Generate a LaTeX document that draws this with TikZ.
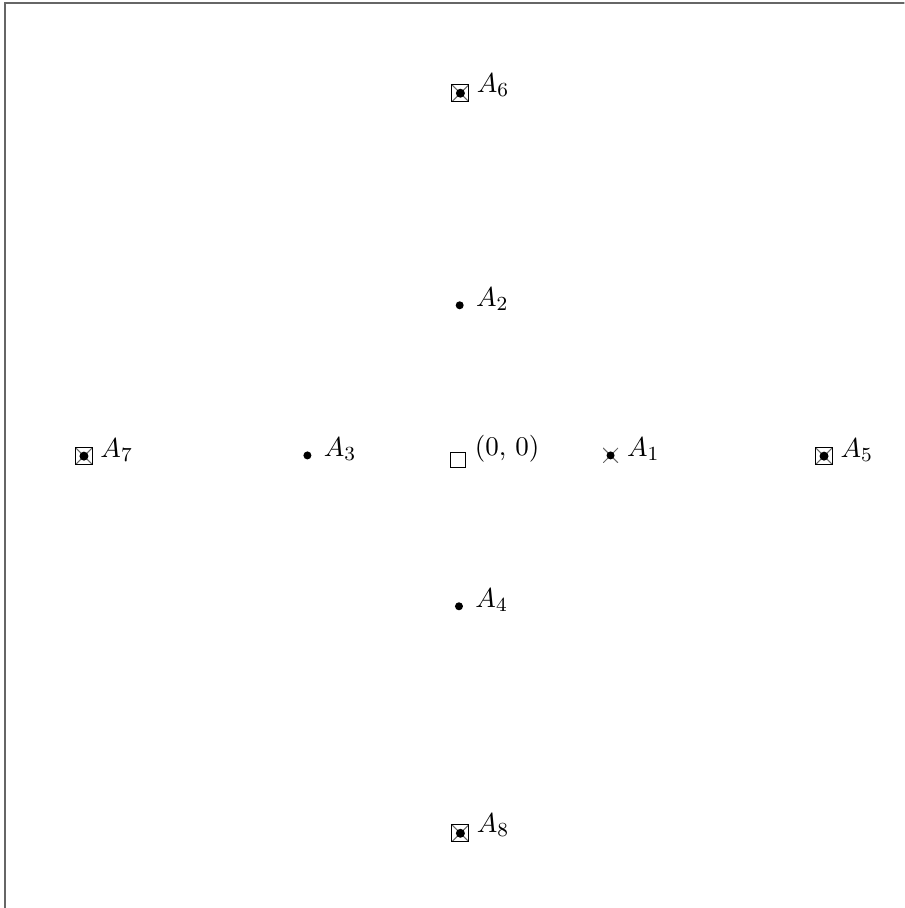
\documentclass[tikz,border=0pt]{standalone}
\usepackage{amsmath,amssymb}
\usepackage{xcolor}
\usepackage{tikz}
\usetikzlibrary{positioning}
\tikzset{
  origmark/.style={rectangle,draw=black,line width=0.4pt,minimum size=6pt,inner sep=0pt},
  dotmark/.style={circle,fill=black,minimum size=3.2pt,inner sep=0pt},
  xmark/.style={rectangle,minimum size=6pt,inner sep=0pt,
    path picture={
      \draw[black!60,line width=0.4pt]
        (path picture bounding box.south west) -- (path picture bounding box.north east)
        (path picture bounding box.north west) -- (path picture bounding box.south east);
      \fill (path picture bounding box.center) circle (1.6pt);}},
  boxmark/.style={xmark,draw=black,line width=0.4pt,minimum size=6.8pt,
    path picture={
      \draw[black!60,line width=0.4pt]
        (path picture bounding box.south west) -- (path picture bounding box.north east)
        (path picture bounding box.north west) -- (path picture bounding box.south east);
      \fill (path picture bounding box.center) circle (1.8pt);}},
  lbl/.style={anchor=base west,inner sep=0pt,xshift=6.4pt,yshift=-0.4pt},
}

\begin{document}
\begin{tikzpicture}[every node/.style={font=\fontsize{10.8}{13}\selectfont}]
  \useasboundingbox (-6.44,-6.35) rectangle (6.27,6.41);
  \clip (-6.44,-6.35) rectangle (6.27,6.41);
  \draw[black!60,line width=0.8pt] (-6.37,-7) |- (7,6.37);
  % markers
  \node[origmark] (o)  at (0,-0.05)     {};
  \node[xmark]    (a1) at (2.14,0.01)   {};
  \node[dotmark]  (a2) at (0.02,2.12)   {};
  \node[dotmark]  (a3) at (-2.12,0.01)  {};
  \node[dotmark]  (a4) at (0.01,-2.11)  {};
  \node[boxmark]  (a5) at (5.14,0)      {};
  \node[boxmark]  (a6) at (0.03,5.10)   {};
  \node[boxmark]  (a7) at (-5.26,0)     {};
  \node[boxmark]  (a8) at (0.03,-5.30)  {};
  % labels
  \node[lbl,yshift=2pt] (lo) at (o.center) {(0, 0)};
  \node[lbl] (l1) at (a1.center) {$A_1$};
  \node[lbl] (l2) at (a2.center) {$A_2$};
  \node[lbl] (l3) at (a3.center) {$A_3$};
  \node[lbl] (l4) at (a4.center) {$A_4$};
  \node[lbl] (l5) at (a5.center) {$A_5$};
  \node[lbl,yshift=0.8pt] (l6) at (a6.center) {$A_6$};
  \node[lbl] (l7) at (a7.center) {$A_7$};
  \node[lbl,yshift=0.8pt] (l8) at (a8.center) {$A_8$};
\end{tikzpicture}
\end{document}
